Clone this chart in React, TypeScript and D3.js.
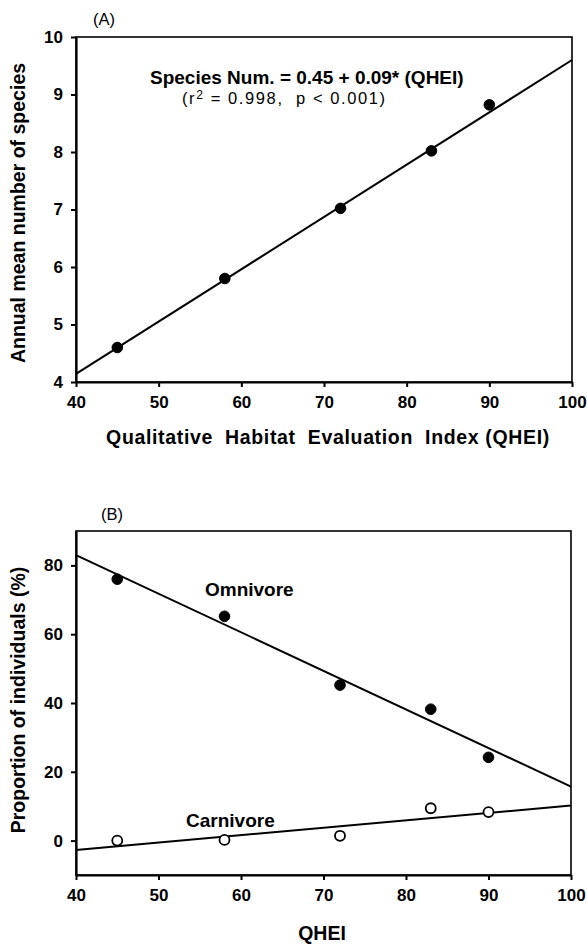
import React, { useEffect, useRef } from "react";
import * as d3 from "d3";

const qhei = [45, 58, 72, 83, 90];
const speciesNum = [4.6, 5.8, 7.02, 8.02, 8.82];
const fitX = [40, 100];
const speciesFit = [4.14, 9.6];
const omnivore = [76, 65.2, 45.2, 38.2, 24.2];
const carnivore = [0, 0.2, 1.4, 9.4, 8.3];
const omniFit = [83, 15.7];
const carniFit = [-2.7, 10.2];
const xTicks = [40, 50, 60, 70, 80, 90, 100];
const yTicksA = [4, 5, 6, 7, 8, 9, 10];
const yTicksB = [0, 20, 40, 60, 80];

const FONT = "'Liberation Sans', Arial, sans-serif";

export default function App() {
  const ref = useRef<SVGGElement>(null);

  useEffect(() => {
    const root = d3.select(ref.current);
    root.selectAll("*").remove();

    function panel(opts: {
      x0: number; x1: number; yTop: number; yBot: number;
      yDomain: [number, number]; yTicks: number[];
    }) {
      const x = d3.scaleLinear().domain([40, 100]).range([opts.x0, opts.x1]);
      const y = d3.scaleLinear().domain(opts.yDomain).range([opts.yBot, opts.yTop]);
      const g = root.append("g");
      g.append("rect")
        .attr("x", opts.x0).attr("y", opts.yTop)
        .attr("width", opts.x1 - opts.x0).attr("height", opts.yBot - opts.yTop)
        .attr("fill", "none").attr("stroke", "#000").attr("stroke-width", 1.6);
      const xa = g.append("g").attr("transform", `translate(0,${opts.yBot})`)
        .call(d3.axisBottom(x).tickValues(xTicks).tickFormat(d3.format("d")).tickSize(5).tickSizeOuter(0).tickPadding(9));
      const ya = g.append("g").attr("transform", `translate(${opts.x0},0)`)
        .call(d3.axisLeft(y).tickValues(opts.yTicks).tickFormat(d3.format("d")).tickSize(5).tickSizeOuter(0).tickPadding(8));
      [xa, ya].forEach((a) => {
        a.attr("font-size", 17).attr("font-family", FONT);
        a.select(".domain").attr("stroke", "#000").attr("stroke-width", 2.2);
        a.selectAll(".tick line").attr("stroke", "#000").attr("stroke-width", 2);
        a.selectAll(".tick text")
          .attr("font-family", FONT).attr("font-size", 17).attr("font-weight", "bold").attr("fill", "#000");
      });
      return { g, x, y };
    }

    // Panel A
    const A = panel({ x0: 76, x1: 572, yTop: 37, yBot: 382, yDomain: [4, 10], yTicks: yTicksA });
    const lineA = d3.line<number>().x((_, i) => A.x(fitX[i])).y((d) => A.y(d));
    A.g.append("path").attr("d", lineA(speciesFit)).attr("stroke", "#000").attr("stroke-width", 2).attr("fill", "none");
    A.g.selectAll("circle.a").data(speciesNum).enter().append("circle")
      .attr("cx", (_, i) => A.x(qhei[i])).attr("cy", (d) => A.y(d)).attr("r", 5.3)
      .attr("fill", "#000").attr("stroke", "#000");

    // Panel B
    const B = panel({ x0: 76, x1: 571, yTop: 531, yBot: 875, yDomain: [-10, 90], yTicks: yTicksB });
    const lineB = d3.line<number>().x((_, i) => B.x(fitX[i])).y((d) => B.y(d));
    B.g.append("path").attr("d", lineB(omniFit)).attr("stroke", "#000").attr("stroke-width", 2).attr("fill", "none");
    B.g.append("path").attr("d", lineB(carniFit)).attr("stroke", "#000").attr("stroke-width", 2).attr("fill", "none");
    B.g.selectAll("circle.o").data(omnivore).enter().append("circle")
      .attr("cx", (_, i) => B.x(qhei[i])).attr("cy", (d) => B.y(d)).attr("r", 5.3)
      .attr("fill", "#000").attr("stroke", "#000");
    B.g.selectAll("circle.c").data(carnivore).enter().append("circle")
      .attr("cx", (_, i) => B.x(qhei[i])).attr("cy", (d) => B.y(d)).attr("r", 5)
      .attr("fill", "#fff").attr("stroke", "#000").attr("stroke-width", 1.8);
  }, []);

  const bold = { fontFamily: FONT, fontWeight: "bold" as const, fill: "#000" };
  const reg = { fontFamily: FONT, fill: "#000" };

  return (
    <svg width={587} height={945}
      style={{ position: "absolute", left: 0, top: 0, background: "#fff" }}>
      <g ref={ref} />
      {/* Panel A texts */}
      <text x={93} y={25} fontSize={16.5} {...reg}>(A)</text>
      <text x={150} y={84} fontSize={19} {...bold}>Species Num. = 0.45 + 0.09* (QHEI)</text>
      <text x={182} y={104} fontSize={16.5} letterSpacing={1.6} {...reg} style={{ whiteSpace: "pre" }}>
        (r<tspan dy={-5} fontSize={12}>2</tspan><tspan dy={5}>{" = 0.998,  p < 0.001)"}</tspan>
      </text>
      <text transform="translate(25,213) rotate(-90)" textAnchor="middle" fontSize={19.5} {...bold}>
        Annual mean number of species
      </text>
      <text x={328} y={444} textAnchor="middle" fontSize={19.5} letterSpacing={0.65} {...bold} style={{ whiteSpace: "pre" }}>
        {"Qualitative  Habitat  Evaluation  Index (QHEI)"}
      </text>
      {/* Panel B texts */}
      <text x={101} y={520} fontSize={16.5} {...reg}>(B)</text>
      <text x={205} y={596} fontSize={19} {...bold}>Omnivore</text>
      <text x={186} y={827} fontSize={19} {...bold}>Carnivore</text>
      <text transform="translate(25,700) rotate(-90)" textAnchor="middle" fontSize={19.5} {...bold}>
        Proportion of individuals (%)
      </text>
      <text x={322} y={940} textAnchor="middle" fontSize={19.5} {...bold}>QHEI</text>
    </svg>
  );
}
